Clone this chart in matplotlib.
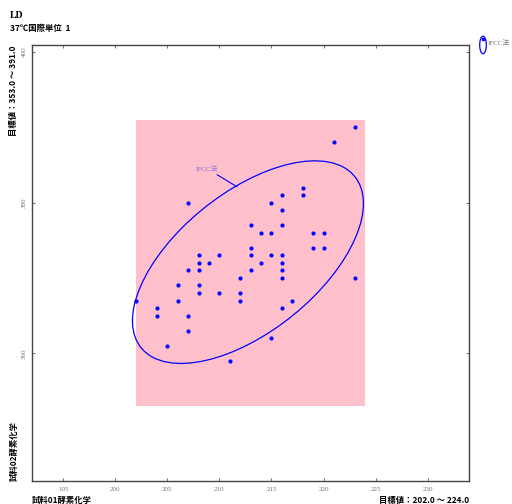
import numpy as np
import matplotlib
matplotlib.use("Agg")
import matplotlib.pyplot as plt
from matplotlib.patches import Ellipse, Rectangle

plt.rcParams['font.family'] = ['Noto Sans CJK JP', 'DejaVu Sans']

x_vals = [223, 221, 218, 218, 216, 207, 215, 216, 213, 216,
          214, 215, 219, 220, 213, 219, 220, 208, 210, 213,
          215, 216, 208, 209, 214, 216, 207, 208, 213, 216,
          212, 216, 223, 206, 208, 208, 210, 212, 202, 206,
          212, 217, 204, 216, 204, 207, 207, 215, 205, 211]
y_vals = [390, 388, 382, 381, 381, 380, 380, 379, 377, 377,
          376, 376, 376, 376, 374, 374, 374, 373, 373, 373,
          373, 373, 372, 372, 372, 372, 371, 371, 371, 371,
          370, 370, 370, 369, 369, 368, 368, 368, 367, 367,
          367, 367, 366, 366, 365, 365, 363, 362, 361, 359]

x_target = (202.0, 224.0)
y_target = (353.0, 391.0)
x_lim = (192, 234)
y_lim = (343, 401)
x_ticks = [195, 200, 205, 210, 215, 220, 225, 230]
y_ticks = [360, 380, 400]
series_name = "IFCC法"

fig = plt.figure(figsize=(5.12, 5.04), dpi=100)
ax = fig.add_axes([32/512, 1-481.3/504, (469.3-32)/512, (481.3-44.5)/504])
ax.set_xlim(*x_lim)
ax.set_ylim(*y_lim)

ax.add_patch(Rectangle((x_target[0], y_target[0]), x_target[1]-x_target[0],
                       y_target[1]-y_target[0], facecolor='pink', edgecolor='none', zorder=0))

xs = np.array(x_vals, float)
ys = np.array(y_vals, float)
cov = np.cov(xs, ys)
vals, vecs = np.linalg.eigh(cov)
order = vals.argsort()[::-1]
vals, vecs = vals[order], vecs[:, order]
angle = np.degrees(np.arctan2(vecs[1, 0], vecs[0, 0]))
k = 2.12
ax.add_patch(Ellipse((xs.mean(), ys.mean()), 2*k*np.sqrt(vals[0]), 2*k*np.sqrt(vals[1]),
                     angle=angle, fill=False, edgecolor='blue', linewidth=0.9, zorder=2))

ax.scatter(xs, ys, s=9, color='blue', zorder=3, linewidths=0)

ax.annotate(series_name, xy=(211.7, 382.1), xytext=(209.9, 384.5),
            fontsize=5, color='#8a6fd8', ha='right', va='center',
            family=['Liberation Serif', 'Noto Sans CJK JP'],
            arrowprops=dict(arrowstyle='-', color='blue', lw=0.8, shrinkA=0, shrinkB=0))

ax.set_xticks(x_ticks)
ax.set_yticks(y_ticks)
ax.set_xticklabels([str(t) for t in x_ticks], fontsize=5, color='#777777', family='Liberation Serif')
ax.set_yticklabels([str(t) for t in y_ticks], fontsize=5, color='#777777', family='Liberation Serif',
                   rotation=90, va='center')
ax.tick_params(direction='in', length=2, width=0.6, color='#555555', top=True, right=True, pad=4)
for s in ax.spines.values():
    s.set_color('#444444')
    s.set_linewidth(1.0)

fig.text(10/512, 1-16/504, "LD", fontsize=7, fontweight='bold', family=['Liberation Serif', 'Noto Sans CJK JP'], va='center')
fig.text(10/512, 1-29/504, "37℃国際単位  1", fontsize=6, fontweight='bold', va='center')
fig.text(14/512, 1-45/504, "目標値：353.0 ～ 391.0", fontsize=6, fontweight='bold', rotation=90,
         ha='center', va='top')
fig.text(14/512, 1-481/504, "試料02酵素化学", fontsize=6, fontweight='bold', rotation=90,
         ha='center', va='bottom')
fig.text(32/512, 1-500/504, "試料01酵素化学", fontsize=6, fontweight='bold', ha='left', va='center')
fig.text(469/512, 1-500/504, "目標値：202.0 ～ 224.0", fontsize=6, fontweight='bold', ha='right', va='center')

lax = fig.add_axes([477/512, 1-56/504, 12/512, 22/504])
lax.set_xlim(0, 1)
lax.set_ylim(0, 1)
lax.axis('off')
lax.add_patch(Ellipse((0.5, 0.5), 0.55, 0.8, fill=False, edgecolor='blue', linewidth=0.9))
lax.scatter([0.5], [0.78], s=7, color='blue', linewidths=0)
fig.text(488/512, 1-42/504, series_name, fontsize=5, color='#777777', va='center',
         family=['Liberation Serif', 'Noto Sans CJK JP'])

fig.savefig("out.png", dpi=100)
